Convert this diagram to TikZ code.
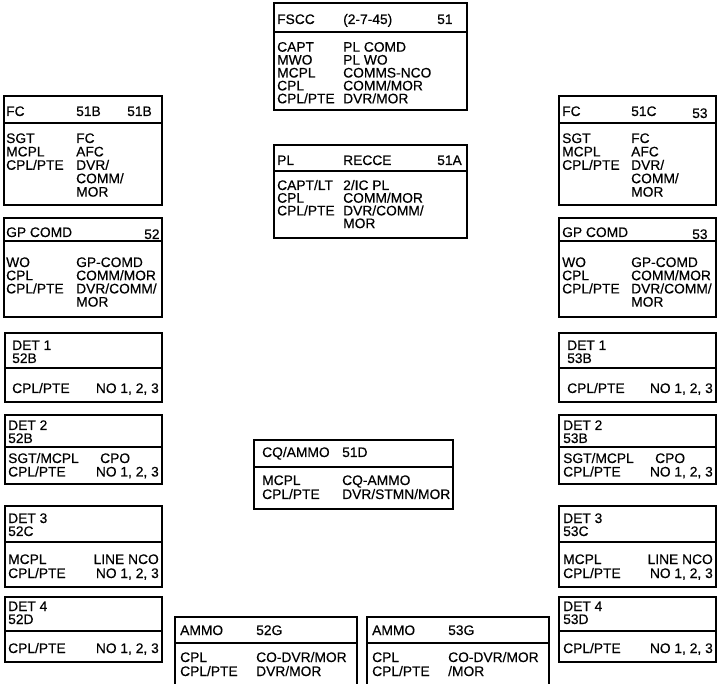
\documentclass[tikz,border=0pt]{standalone}
\usepackage{fontspec}
\setmainfont{Liberation Sans}[BoldFont=Liberation Sans, BoldFeatures={FakeBold=0.4}]
\newcommand\orgbox[5]{\draw[boxline] (#1,#2) rectangle (#3,#4); \draw[boxline] (#1,#5) -- (#3,#5);}
\newcommand\openbox[5]{\draw[boxline] (#1,#4) -- (#1,#2) -- (#3,#2) -- (#3,#4); \draw[boxline] (#1,#5) -- (#3,#5);}
\newcommand\colw[5]{\foreach \t [count=\i] in {#5} \node[txt] (#1\i) at (#2,{#3+#4*(\i-1)}) {\t};}
\begin{document}
\begin{tikzpicture}[x=1pt,y=-1pt,
  txt/.style={anchor=base west, inner sep=0pt, font=\fontsize{13.8}{13.8}\selectfont\bfseries},
  txr/.style={txt, anchor=base east},
  boxline/.style={draw=black, line width=1.6pt}]
\useasboundingbox (0,0) rectangle (718,684);
% FSCC
\orgbox{274}{3}{467}{110}{32}
\node[txt] (fsccA) at (277,24) {FSCC};
\node[txt] (fsccB) at (343,24) {(2-7-45)};
\node[txt] (fsccC) at (437,24) {51};
\colw{fsccL}{277}{51.7}{12.9}{CAPT,MWO,MCPL,CPL,CPL/PTE}
\colw{fsccR}{343}{51.7}{12.9}{PL COMD,PL WO,COMMS-NCO,COMM/MOR,DVR/MOR}
% FC 51B
\orgbox{4}{96}{162}{205}{123}
\node[txt] (fcbA) at (6,116) {FC};
\node[txt] (fcbB) at (76,116) {51B};
\node[txt] (fcbC) at (127,116) {51B};
\colw{fcbL}{6}{143}{13.4}{SGT,MCPL,CPL/PTE}
\colw{fcbR}{76}{143}{13.4}{FC,AFC,DVR/,COMM/,MOR}
% FC 51C
\orgbox{559}{96}{716}{205}{123}
\node[txt] (fccA) at (562,116) {FC};
\node[txt] (fccB) at (631,116) {51C};
\node[txt] (fccC) at (692,118) {53};
\colw{fccL}{562}{143}{13.4}{SGT,MCPL,CPL/PTE}
\colw{fccR}{631}{143}{13.4}{FC,AFC,DVR/,COMM/,MOR}
% PL RECCE
\orgbox{274}{145}{467}{238}{171}
\node[txt] (plA) at (277,165) {PL};
\node[txt] (plB) at (343,165) {RECCE};
\node[txt] (plC) at (437,165) {51A};
\colw{plL}{277}{190}{12.7}{CAPT/LT,CPL,CPL/PTE}
\colw{plR}{343}{190}{12.7}{2/IC PL,COMM/MOR,DVR/COMM/,MOR}
% GP COMD 52
\orgbox{4}{218}{162}{317}{241}
\node[txt] (gpaA) at (6,237) {GP COMD};
\node[txt] (gpaB) at (144,239) {52};
\colw{gpaL}{6}{267}{13.2}{WO,CPL,CPL/PTE}
\colw{gpaR}{76}{267}{13.2}{GP-COMD,COMM/MOR,DVR/COMM/,MOR}
% GP COMD 53
\orgbox{559}{218}{716}{317}{241}
\node[txt] (gpbA) at (562,237) {GP COMD};
\node[txt] (gpbB) at (692,239) {53};
\colw{gpbL}{562}{267}{13.2}{WO,CPL,CPL/PTE}
\colw{gpbR}{631}{267}{13.2}{GP-COMD,COMM/MOR,DVR/COMM/,MOR}
% DET 1
\orgbox{5}{333}{162}{402}{368}
\node[txt] (d1aA) at (12,350) {DET 1};
\node[txt] (d1aB) at (12,363) {52B};
\node[txt] (d1aC) at (12,393) {CPL/PTE};
\node[txr] (d1aD) at (159,393) {NO 1, 2, 3};
\orgbox{559}{333}{716}{402}{368}
\node[txt] (d1bA) at (567,350) {DET 1};
\node[txt] (d1bB) at (567,363) {53B};
\node[txt] (d1bC) at (567,393) {CPL/PTE};
\node[txr] (d1bD) at (713,393) {NO 1, 2, 3};
% DET 2
\orgbox{5}{415}{162}{484}{447}
\node[txt] (d2aA) at (8,430) {DET 2};
\node[txt] (d2aB) at (8,443) {52B};
\node[txt] (d2aC) at (8,463) {SGT/MCPL};
\node[txt] (d2aD) at (8,476.5) {CPL/PTE};
\node[txt] (d2aE) at (100,463) {CPO};
\node[txr] (d2aF) at (159,476.5) {NO 1, 2, 3};
\orgbox{559}{415}{716}{484}{447}
\node[txt] (d2bA) at (563,430) {DET 2};
\node[txt] (d2bB) at (563,443) {53B};
\node[txt] (d2bC) at (563,463) {SGT/MCPL};
\node[txt] (d2bD) at (563,476.5) {CPL/PTE};
\node[txt] (d2bE) at (655,463) {CPO};
\node[txr] (d2bF) at (713,476.5) {NO 1, 2, 3};
% DET 3
\orgbox{5}{506}{162}{587}{542}
\node[txt] (d3aA) at (8,523) {DET 3};
\node[txt] (d3aB) at (8,536) {52C};
\node[txt] (d3aC) at (8,564) {MCPL};
\node[txt] (d3aD) at (8,578) {CPL/PTE};
\node[txr] (d3aE) at (159,564) {LINE NCO};
\node[txr] (d3aF) at (159,578) {NO 1, 2, 3};
\orgbox{559}{506}{716}{587}{542}
\node[txt] (d3bA) at (563,523) {DET 3};
\node[txt] (d3bB) at (563,536) {53C};
\node[txt] (d3bC) at (563,564) {MCPL};
\node[txt] (d3bD) at (563,578) {CPL/PTE};
\node[txr] (d3bE) at (713,564) {LINE NCO};
\node[txr] (d3bF) at (713,578) {NO 1, 2, 3};
% DET 4
\orgbox{5}{597}{162}{662}{631}
\node[txt] (d4aA) at (8,611) {DET 4};
\node[txt] (d4aB) at (8,624) {52D};
\node[txt] (d4aC) at (8,653) {CPL/PTE};
\node[txr] (d4aD) at (159,653) {NO 1, 2, 3};
\orgbox{559}{597}{716}{662}{631}
\node[txt] (d4bA) at (563,611) {DET 4};
\node[txt] (d4bB) at (563,624) {53D};
\node[txt] (d4bC) at (563,653) {CPL/PTE};
\node[txr] (d4bD) at (713,653) {NO 1, 2, 3};
% CQ/AMMO
\orgbox{254}{440}{453}{509}{467}
\node[txt] (cqA) at (262,457) {CQ/AMMO};
\node[txt] (cqB) at (342,457) {51D};
\colw{cqL}{262}{485}{14}{MCPL,CPL/PTE}
\colw{cqR}{342}{485}{14}{CQ-AMMO,DVR/STMN/MOR}
% AMMO 52G
\openbox{175}{617}{357}{690}{643}
\node[txt] (amaA) at (180,635) {AMMO};
\node[txt] (amaB) at (256,635) {52G};
\colw{amaL}{180}{662}{14}{CPL,CPL/PTE}
\colw{amaR}{256}{662}{14}{CO-DVR/MOR,DVR/MOR}
% AMMO 53G
\openbox{367}{617}{549}{690}{643}
\node[txt] (ambA) at (372,635) {AMMO};
\node[txt] (ambB) at (448,635) {53G};
\colw{ambL}{372}{662}{14}{CPL,CPL/PTE}
\colw{ambR}{448}{662}{14}{CO-DVR/MOR,/MOR}
\end{tikzpicture}
\end{document}
